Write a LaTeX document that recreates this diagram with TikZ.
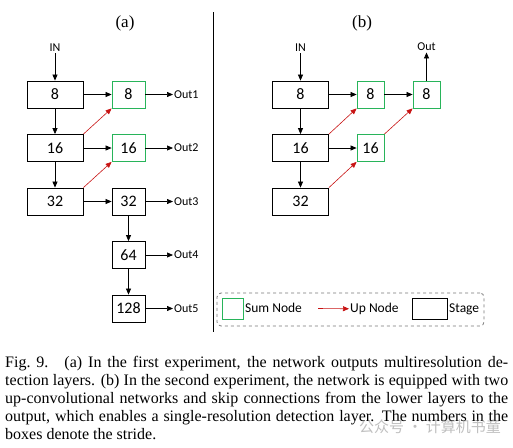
\documentclass[tikz,border=0pt]{standalone}
\usepackage{fontspec}
\setmainfont{Liberation Serif}
\newfontfamily\diagfont{Carlito}
\newfontfamily\cjkfont{Noto Sans CJK SC}
\usetikzlibrary{arrows.meta,positioning}
\definecolor{sumGreen}{RGB}{40,180,90}
\definecolor{upRed}{RGB}{200,20,20}
\definecolor{legendGray}{RGB}{120,120,120}

\begin{document}
\begin{tikzpicture}[x=1pt,y=-1pt,
  blk/.style={rectangle,line width=0.8pt,minimum height=27pt,inner sep=0pt,
              font=\diagfont\fontsize{16}{16}\selectfont},
  stage/.style={blk,draw=black,minimum width=56pt},
  small/.style={blk,draw=black,minimum width=33pt},
  sumA/.style={blk,draw=sumGreen,minimum width=33pt},
  sumB/.style={blk,draw=sumGreen,minimum width=27pt},
  lbl/.style={font=\diagfont\fontsize{12}{12}\selectfont,inner sep=1pt,
              text height=8pt,text depth=0.5pt},
  leg/.style={font=\diagfont\fontsize{13.5}{13.5}\selectfont,inner sep=1pt,
              text height=9pt,text depth=3pt},
  arr/.style={-{Triangle[length=6pt,width=5pt]},line width=0.7pt},
  uparr/.style={-{Triangle[length=6pt,width=5pt]},upRed,line width=0.6pt}
]
  \useasboundingbox (0,0) rectangle (513,447);

  % panel (a)
  \node[font=\fontsize{17}{17}\selectfont](titleA) at (125,23){(a)};
  \node[stage](aS8)  at (55,94.5) {8};
  \node[stage](aS16) at (55,148)  {16};
  \node[stage](aS32) at (55,201.5){32};
  \node[sumA](aP8)   at (128.5,94.5) {8};
  \node[sumA](aP16)  at (128.5,148)  {16};
  \node[small](aC32) at (128.5,201.5){32};
  \node[small](aC64) at (128.5,255)  {64};
  \node[small](aC128)at (128.5,308.5){128};
  \node[lbl](aIn) at (55,48){IN};
  \node[lbl,anchor=west](aOut1) at (173,94.5) {Out1};
  \node[lbl,anchor=west](aOut2) at (173,148)  {Out2};
  \node[lbl,anchor=west](aOut3) at (173,201.5){Out3};
  \node[lbl,anchor=west](aOut4) at (173,255)  {Out4};
  \node[lbl,anchor=west](aOut5) at (173,308.5){Out5};

  \draw[arr](aIn)--(aS8);
  \draw[arr](aS8)--(aS16);
  \draw[arr](aS16)--(aS32);
  \draw[arr](aS8)--(aP8);
  \draw[arr](aS16)--(aP16);
  \draw[arr](aS32)--(aC32);
  \draw[arr](aC32)--(aC64);
  \draw[arr](aC64)--(aC128);
  \draw[uparr](aS16.north east)--(aP8.south west);
  \draw[uparr](aS32.north east)--(aP16.south west);
  \foreach \n/\m in {P8/1,P16/2,C32/3,C64/4,C128/5}
    \draw[arr](a\n)--(aOut\m);

  % divider
  \draw[line width=0.8pt](213,12)--(213,332);

  % panel (b)
  \node[font=\fontsize{17}{17}\selectfont](titleB) at (362,23){(b)};
  \node[stage](bS8)  at (300.5,94.5) {8};
  \node[stage](bS16) at (300.5,148)  {16};
  \node[stage](bS32) at (300.5,201.5){32};
  \node[sumB](bP8)   at (370.5,94.5){8};
  \node[sumB](bP16)  at (370.5,148) {16};
  \node[sumB](bQ8)   at (426.5,94.5){8};
  \node[lbl](bIn)  at (300.5,48){IN};
  \node[lbl](bOut) at (426.5,47){Out};

  \draw[arr](bIn)--(bS8);
  \draw[arr](bS8)--(bS16);
  \draw[arr](bS16)--(bS32);
  \draw[arr](bS8)--(bP8);
  \draw[arr](bP8)--(bQ8);
  \draw[arr](bS16)--(bP16);
  \draw[arr](bQ8)--(bOut);
  \draw[uparr](bS16.north east)--(bP8.south west);
  \draw[uparr](bS32.north east)--(bP16.south west);
  \draw[uparr](bP16.north east)--(bQ8.south west);

  % legend
  \node[draw=legendGray,dashed,rounded corners=4pt,line width=0.8pt,
        minimum width=267pt,minimum height=33pt](legend) at (350.5,309.5){};
  \node[blk,draw=sumGreen,minimum width=21pt,minimum height=21pt](legSum) at (232.5,308.5){};
  \node[leg,anchor=west](legSumT) at (244,309){Sum Node};
  \coordinate(legUpA) at (318,308.5);
  \node[leg,anchor=west](legUpT) at (349,309){Up Node};
  \draw[uparr](legUpA)--(legUpT);
  \node[blk,draw=black,minimum width=35pt,minimum height=21pt](legStage) at (429.5,308.5){};
  \node[leg,anchor=west](legStageT) at (448,309){Stage};

  % caption
  \node[anchor=north west,text width=503pt,align=justify,inner sep=0pt,
        font=\fontsize{16}{18}\selectfont](caption) at (5,356)
  {Fig.~9.\quad (a) In the first experiment, the network outputs multiresolution de-\linebreak
   tection layers. (b) In the second experiment, the network is equipped with two\linebreak
   up-convolutional networks and skip connections from the lower layers to the\linebreak
   output, which enables a single-resolution detection layer. The numbers in the\linebreak
   boxes denote the stride.};
  \node[font=\cjkfont\fontsize{15}{15}\selectfont,text=gray,text opacity=0.5](mark)
    at (430,427){公众号 · 计算机书童};
\end{tikzpicture}
\end{document}
